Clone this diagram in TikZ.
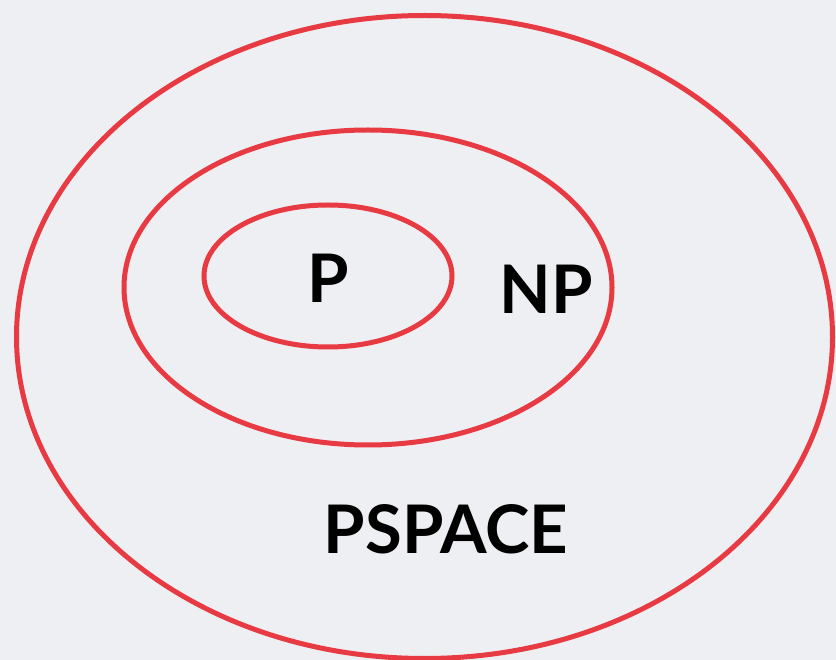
\documentclass[tikz,border=0pt]{standalone}
\usepackage{fontspec}
\setmainfont{Lato}
\usepackage{tikz}
\usetikzlibrary{positioning}
\definecolor{setRed}{RGB}{232,58,66}
\definecolor{bgGray}{RGB}{237,239,242}
\tikzset{
  classline/.style={draw=setRed, line width=5pt},
  classname/.style={inner sep=0pt, font=\fontsize{67}{70}\selectfont\bfseries, text=black}
}

\begin{document}
\begin{tikzpicture}[x=1pt, y=-1pt]
    % Background
    \fill[bgGray] (0,0) rectangle (836,660);
    \useasboundingbox (0,0) rectangle (836,660);
    % Nested classes
    \draw[classline] (424.5,337) ellipse (408 and 321.5);
    \draw[classline] (368,287.5) ellipse (244 and 157.5);
    \draw[classline] (328,276) ellipse (124 and 71);
    % Labels
    \node[classname] (p) at (328,278) {P};
    \node[classname] (np) at (546.5,289) {NP};
    \node[classname] (pspace) at (446,529) {PSPACE};
\end{tikzpicture}
\end{document}
